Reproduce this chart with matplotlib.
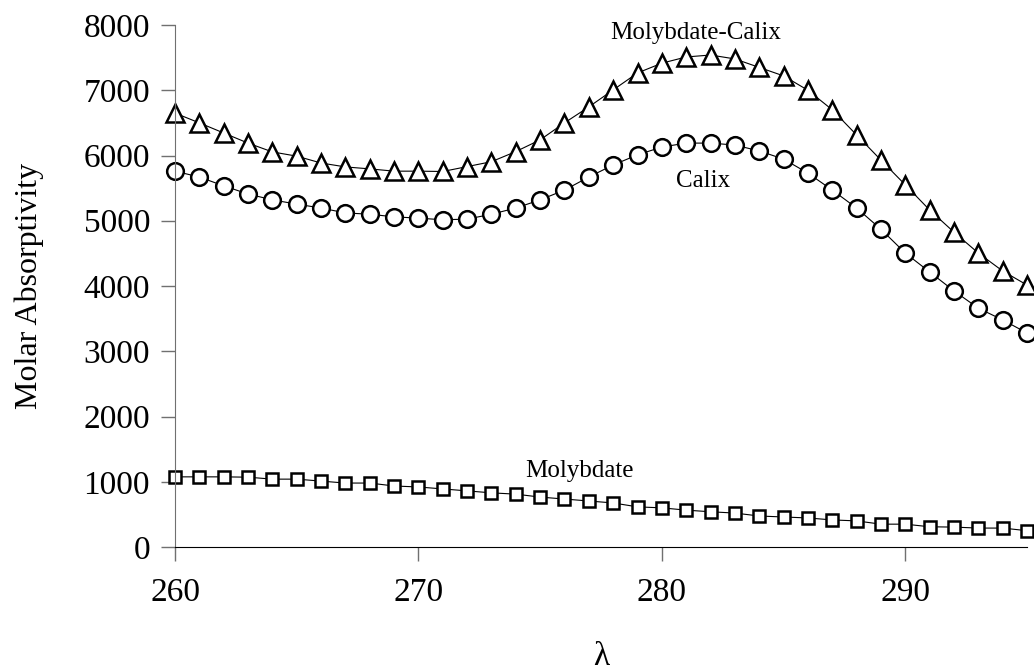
import matplotlib
matplotlib.use("Agg")
import matplotlib.pyplot as plt

# wavelength (nm)
wavelength = list(range(260, 296))

molybdate_calix = [6650, 6500, 6345, 6190, 6055, 5990, 5885, 5825, 5795, 5760,
                   5760, 5755, 5830, 5905, 6060, 6240, 6500, 6745, 7005, 7265,
                   7415, 7510, 7540, 7480, 7350, 7220, 7000, 6700, 6315, 5930,
                   5550, 5165, 4825, 4505, 4230, 4015]

calix = [5760, 5670, 5535, 5410, 5320, 5255, 5195, 5120, 5100, 5060,
         5040, 5015, 5025, 5100, 5195, 5320, 5470, 5670, 5855, 6010,
         6130, 6190, 6190, 6160, 6070, 5945, 5730, 5470, 5195, 4870,
         4505, 4215, 3925, 3660, 3480, 3280]

molybdate = [1075, 1075, 1075, 1070, 1040, 1040, 1010, 980, 980, 935,
             920, 890, 860, 830, 810, 765, 735, 705, 675, 615,
             600, 565, 540, 520, 475, 460, 445, 415, 400, 350,
             350, 310, 305, 290, 290, 250]

plt.rcParams['font.family'] = ['Liberation Serif', 'DejaVu Serif']

fig = plt.figure(figsize=(10.34, 6.71), dpi=100)
ax = fig.add_axes([175 / 1034, 124 / 671, (1027 - 175) / 1034, (547 - 25) / 671])

ax.plot(wavelength, molybdate_calix, color='black', lw=0.8, marker='^', ms=13,
        mfc='white', mec='black', mew=1.8, clip_on=False)
ax.plot(wavelength, calix, color='black', lw=0.8, marker='o', ms=12,
        mfc='white', mec='black', mew=1.8, clip_on=False)
ax.plot(wavelength, molybdate, color='black', lw=0.8, marker='s', ms=8,
        mfc='white', mec='black', mew=1.8, clip_on=False)

ax.set_xlim(260, 295)
ax.set_ylim(0, 8000)
ax.set_xticks([260, 270, 280, 290])
ax.set_yticks(range(0, 8001, 1000))

for s in ['top', 'right']:
    ax.spines[s].set_visible(False)
ax.spines['left'].set_color('#707070')
ax.spines['bottom'].set_color('black')
ax.tick_params(axis='both', direction='out', length=10, width=1, labelsize=24,
               color='#707070')
ax.tick_params(axis='x', pad=12)
ax.tick_params(axis='y', pad=8)

ax.set_xlabel('λ', fontsize=24, labelpad=24)
ax.set_ylabel('Molar Absorptivity', fontsize=23, labelpad=28)

ax.text(281.4, 7880, 'Molybdate-Calix', fontsize=18, ha='center', va='center')
ax.text(281.7, 5780, 'Calix', fontsize=18, ha='center', va='top')
ax.text(276.6, 1000, 'Molybdate', fontsize=18, ha='center', va='bottom')

fig.savefig('out.png', dpi=100)
